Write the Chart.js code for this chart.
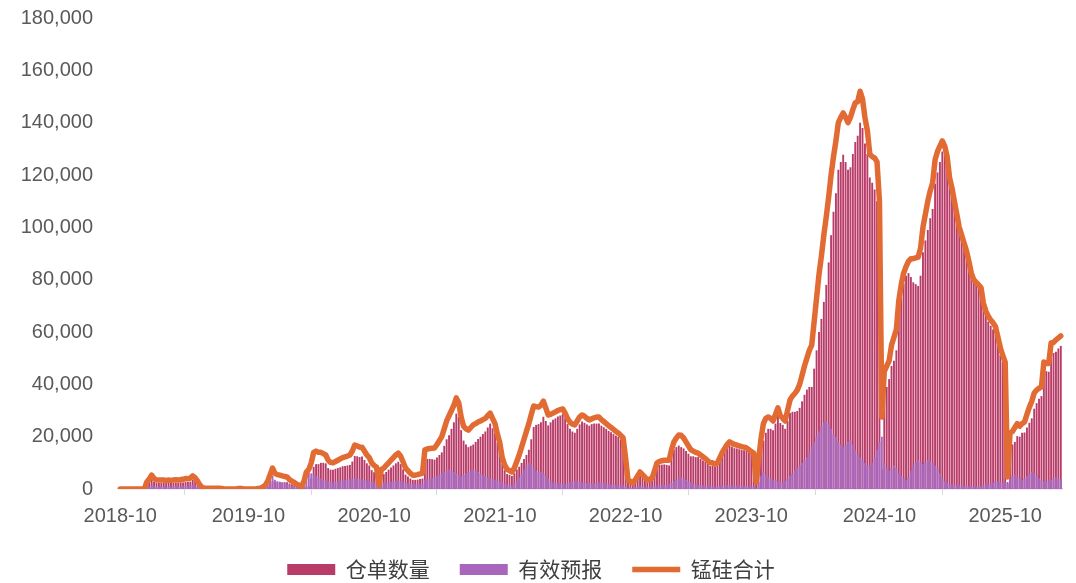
<!DOCTYPE html>
<html>
<head>
<meta charset="utf-8">
<script src="https://cdn.jsdelivr.net/npm/chart.js@4/dist/chart.umd.min.js"></script>
<style>
  html, body { margin: 0; padding: 0; background: #fff; }
</style>
</head>
<body>
<canvas id="myChart" width="1076" height="583"></canvas>
<script>
// weekly readings, first week = 2018-10-01
// 锰硅合计 (line)
const totalSiMn = [
  0,0,0,0,0,0,0,0,0,0,
  0,2700,3800,5300,4000,3500,3400,3400,3400,3300,
  3400,3300,3400,3500,3400,3600,3700,4000,3900,4200,
  5000,4300,3000,1500,500,300,300,300,300,300,
  300,300,200,0,0,0,0,0,0,200,
  200,0,0,0,0,0,0,200,300,800,
  1500,3000,5500,8000,6000,5500,5300,5000,4800,4600,
  3600,3000,2500,1800,1500,1000,3000,6500,7500,10000,
  14000,14500,14000,14000,13500,13000,11000,10200,10000,10500,
  11000,11500,12000,12300,12600,13000,14500,16800,16500,16000,
  16000,14500,13000,12000,10000,9000,8400,1500,7500,8000,
  9000,10000,11000,12000,13000,13700,12500,10300,8000,7000,
  6000,5300,5300,5500,5800,6000,15000,15300,15500,15600,
  15700,17000,18500,20000,23000,26000,28000,30000,32000,34800,
  33000,27500,24000,23000,22500,23500,24500,25000,25600,26000,
  26500,27000,28000,29000,27000,25000,21000,17600,12000,9200,
  7500,7000,6500,8000,10500,13000,16000,19000,22000,25000,
  28500,31700,31500,31300,32000,33600,31000,28300,28500,29000,
  29500,30000,30300,30600,29000,27000,25500,24800,24500,26000,
  27500,28300,27800,27000,26400,26800,27200,27500,27500,26500,
  25800,25000,24200,23500,22800,22000,21400,20500,19500,12000,
  3400,3000,2300,3500,5000,6500,5500,4500,3400,3800,
  4200,7000,10000,10500,10800,11000,11000,11000,15000,18000,
  19500,20600,20500,19500,18000,16500,15000,14500,14000,13700,
  13000,12300,11600,10800,10000,10000,9500,10000,12000,14000,
  15500,17000,18000,17500,17000,16800,16500,16200,16000,15700,
  15000,14300,13700,2700,11000,19000,25000,27000,27500,27000,
  26000,28500,31000,28000,27000,26000,30000,34000,35500,36500,
  37800,40000,43500,47000,50000,53000,55000,64000,73000,82000,
  89000,97000,104000,111600,120000,127000,133000,140000,142000,143700,
  142000,140000,142000,145000,147600,148000,152000,149000,142000,137000,
  128000,127000,126500,125000,110000,27500,45000,47000,49000,55000,
  58000,61000,72000,78000,82500,85000,87000,88000,88000,88300,
  88600,92000,100000,105000,110000,114000,117000,125700,129000,131000,
  133000,131000,127000,119000,115000,110000,105000,100000,97000,94000,
  91000,87000,82500,80000,79000,78000,77000,71000,68000,66000,
  64600,63500,62000,58000,54000,51000,48500,4600,21400,22000,
  23500,25000,24000,25000,25600,28500,31300,33500,36700,37800,
  38500,39000,48500,48000,48000,55800,56000,57000,57700,58500
];

// 有效预报 (purple bars)
const forecastQty = [
  0,0,0,0,0,0,0,0,0,0,
  0,800,1000,1500,1200,1000,1000,1000,900,900,
  1000,1000,1000,1100,1000,1000,1200,1300,1200,1400,
  1500,1300,1000,500,0,0,0,0,0,0,
  0,0,0,0,0,0,0,0,0,0,
  0,0,0,0,0,0,0,0,0,300,
  1000,2000,3500,5000,3500,3000,2800,2500,2200,2000,
  1500,1200,1000,800,600,500,2500,5500,6500,6000,
  5500,5000,4500,4000,3500,3200,3000,2800,2600,2800,
  3000,3200,3300,3500,3600,3800,4000,4200,4000,3800,
  3600,3400,3200,3000,2800,2600,2500,500,2200,2300,
  2500,2600,2800,3000,3200,3300,3000,2800,2500,2200,
  2000,1800,1800,1900,2000,2000,3500,3800,4000,4200,
  4500,5000,5500,6000,6500,7000,7500,7000,6500,6000,
  5500,5000,5500,6000,6500,7000,7500,7000,6500,6000,
  5500,5000,4500,4000,3800,3500,3200,3000,2500,2000,
  1800,1600,1500,2000,3000,4500,6000,7500,9000,10000,
  9500,8000,7000,6500,6500,6000,5000,4000,3000,2500,
  2500,2300,2200,2000,2000,2200,2500,2800,3000,3000,
  2800,2500,2500,2300,2200,2000,2200,2500,2500,2300,
  2200,2000,2000,1800,1800,1600,1500,1500,1400,1000,
  500,600,600,800,1000,1200,1000,900,800,800,
  900,1000,1200,1300,1500,1600,1800,2000,2500,3000,
  3500,4000,4500,4000,3500,3000,2500,2000,1800,1500,
  1500,1400,1300,1200,1200,1100,1000,1000,1200,1300,
  1400,1500,1500,1400,1400,1300,1300,1200,1200,1100,
  1000,1000,1000,500,2500,5000,6500,5500,4500,4000,
  3500,3500,3000,2800,2500,3000,4000,5000,6000,7000,
  8000,9000,10000,11000,12000,14000,16000,18000,20000,22000,
  24000,25500,26000,25000,23000,21000,20000,18000,17000,16000,
  17000,18000,19000,17000,15000,13000,12000,11000,10000,9000,
  9000,10000,12000,15000,18000,20000,10000,8000,7000,8000,
  9000,8000,6000,5000,4000,3500,4500,7000,9000,10000,
  11000,10500,9500,10000,11000,10500,10000,9000,8000,6000,
  4000,3000,2500,2000,1800,1600,1500,1400,1300,1200,
  1200,1100,1100,1000,1000,1000,1200,1500,1800,2000,
  2200,2500,3000,3000,2800,2500,2500,2000,4000,5000,
  5500,4800,4000,3500,4000,5000,6000,6500,6000,5000,
  4000,3500,3000,3000,3200,3500,4000,4500,4000,3800
];

// 仓单数量 = 合计 - 有效预报
const receiptQty = totalSiMn.map(function (v, i) { return v - forecastQty[i]; });

const yearTicks = ["2018-10", "2019-10", "2020-10", "2021-10", "2022-10", "2023-10", "2024-10", "2025-10"];

// week dates for the category axis
const weekLabels = [];
for (var i = 0; i < totalSiMn.length; i++) {
  var d = new Date(Date.UTC(2018, 9, 1) + i * 7 * 86400000);
  weekLabels.push(d.toISOString().slice(0, 10));
}

const RED = '#B83B68';
const PURPLE = '#A866BD';
const ORANGE = '#E26B33';
const FONT = "'Liberation Sans', 'Noto Sans CJK SC', sans-serif";

// legend is wider spaced than its height allows, pin its height
const legendHeight = {
  id: 'legendHeight',
  beforeUpdate: function (chart) {
    var lg = chart.legend;
    if (lg && !lg._fixedFit) {
      var fit = lg.fit;
      lg.fit = function () { fit.call(this); this.height = 54; };
      lg._fixedFit = true;
    }
  }
};

var ctx = document.getElementById('myChart').getContext('2d');
var chart = new Chart(ctx, {
  type: 'bar',
  data: {
    labels: weekLabels,
    datasets: [{
      label: '仓单数量',
      data: receiptQty,
      backgroundColor: RED,
      borderWidth: 0,
      grouped: false,
      categoryPercentage: 1,
      barPercentage: 0.78,
      pointStyle: 'rect',
      order: 2
    }, {
      label: '有效预报',
      data: forecastQty,
      backgroundColor: PURPLE,
      borderWidth: 0,
      grouped: false,
      categoryPercentage: 1,
      barPercentage: 0.78,
      pointStyle: 'rect',
      order: 1
    }, {
      type: 'line',
      label: '锰硅合计',
      data: totalSiMn,
      borderColor: ORANGE,
      backgroundColor: ORANGE,
      borderWidth: 5.5,
      borderCapStyle: 'round',
      borderJoinStyle: 'round',
      pointRadius: 0,
      pointStyle: 'line',
      tension: 0,
      order: 0
    }]
  },
  plugins: [legendHeight],
  options: {
    responsive: false,
    animation: false,
    layout: { padding: { left: 0, right: 14, top: 0, bottom: 0 } },
    plugins: {
      tooltip: { enabled: false },
      legend: {
        position: 'bottom',
        labels: {
          usePointStyle: true,
          pointStyleWidth: 48,
          boxHeight: 11,
          padding: 30,
          color: '#404040',
          font: { family: "'Noto Sans CJK SC', sans-serif", size: 21 },
          sort: function (a, b) { return a.datasetIndex - b.datasetIndex; }
        }
      }
    },
    scales: {
      x: {
        grid: { display: true, drawOnChartArea: false, drawTicks: true, tickLength: 6, color: '#D9D9D9' },
        border: { display: true, color: '#D9D9D9', width: 1.5 },
        ticks: {
          autoSkip: false,
          maxRotation: 0,
          padding: 9,
          color: '#595959',
          font: { family: FONT, size: 20 },
          callback: function (val, idx) {
            var lab = weekLabels[idx];
            var ym = lab.slice(0, 7);
            if (yearTicks.indexOf(ym) >= 0 && +lab.slice(8, 10) <= 7) return ym;
            return null;
          }
        },
        afterFit: function (axis) { axis.height = 40; }
      },
      y: {
        min: 0,
        max: 180000,
        grid: { display: false, drawTicks: false },
        border: { display: false },
        ticks: {
          stepSize: 20000,
          padding: 26,
          color: '#595959',
          font: { family: FONT, size: 20 },
          callback: function (v) { return v.toLocaleString('en-US'); }
        },
        afterFit: function (axis) {
          axis.width = 119;
          axis.paddingTop = 18;
          axis.paddingBottom = 0;
        }
      }
    }
  }
});
</script>
</body>
</html>
